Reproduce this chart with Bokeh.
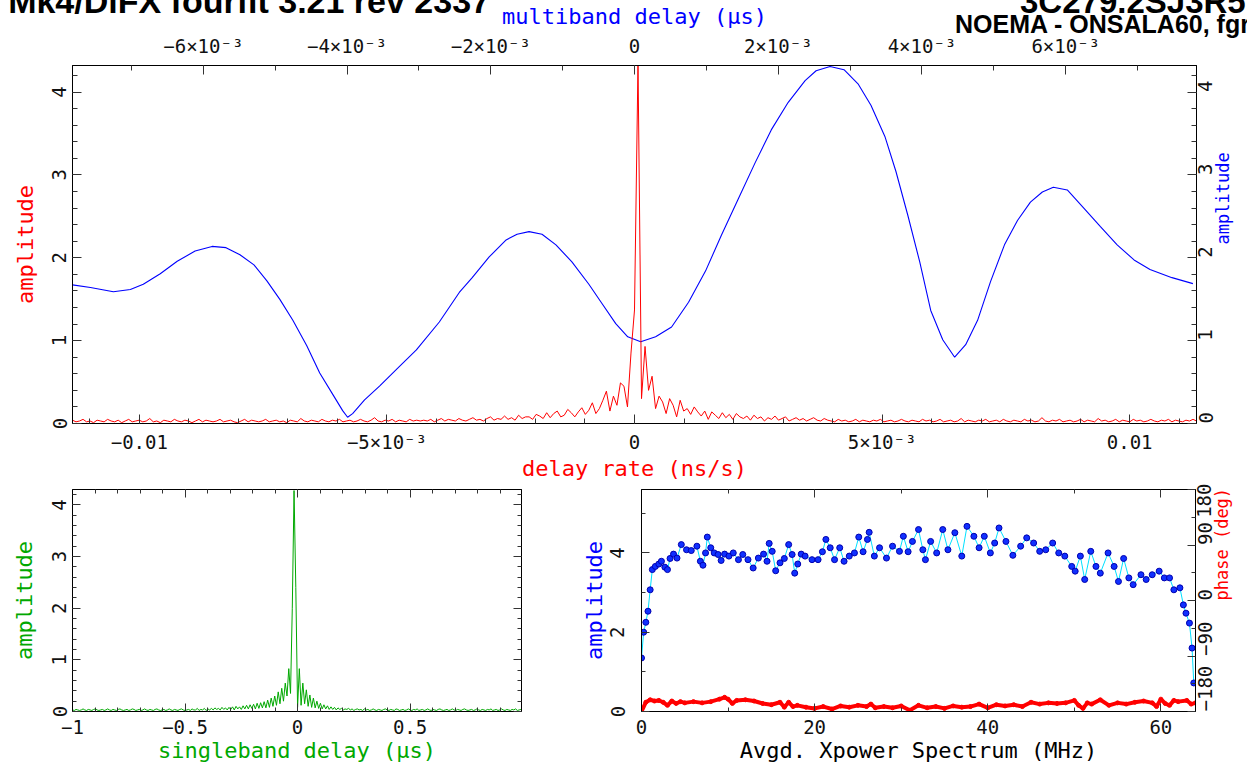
import math
import numpy as np
from bokeh.plotting import figure
from bokeh.models import Range1d, LinearAxis, FixedTicker, CustomJSTickFormatter, Div
from bokeh.layouts import column, row
from bokeh.embed import file_html
from bokeh.resources import INLINE

# ---------------- data ----------------
# multiband delay (us) vs amplitude  (blue, top panel, top axis)
mbd_delay = [-0.007820, -0.007570, -0.007251, -0.007015, -0.006835, -0.006599, -0.006363, -0.006114,
             -0.005878, -0.005684, -0.005490, -0.005295, -0.005115, -0.004935, -0.004754, -0.004560,
             -0.004380, -0.004186, -0.004061, -0.003992, -0.003922, -0.003756, -0.003548, -0.003298,
             -0.003035, -0.002716, -0.002438, -0.002258, -0.002022, -0.001786, -0.001634, -0.001467,
             -0.001287, -0.001093, -0.000871, -0.000635, -0.000455, -0.000261, -0.000094, 0.000086,
             0.000294, 0.000516, 0.000752, 0.000988, 0.001209, 0.001445, 0.001681, 0.001903,
             0.002139, 0.002374, 0.002527, 0.002721, 0.002915, 0.003110, 0.003290, 0.003484,
             0.003637, 0.003803, 0.003969, 0.004122, 0.004289, 0.004455, 0.004608, 0.004774,
             0.004954, 0.005148, 0.005329, 0.005509, 0.005675, 0.005828, 0.006022, 0.006258,
             0.006480, 0.006716, 0.006951, 0.007173, 0.007479, 0.007770]
mbd_amp = [1.673, 1.641, 1.590, 1.617, 1.680, 1.807, 1.958, 2.081,
           2.137, 2.122, 2.037, 1.914, 1.721, 1.498, 1.245, 0.939,
           0.610, 0.333, 0.155, 0.075, 0.119, 0.285, 0.452, 0.666,
           0.888, 1.225, 1.581, 1.760, 2.010, 2.215, 2.283, 2.315,
           2.283, 2.156, 1.950, 1.680, 1.451, 1.205, 1.046, 0.987,
           1.046, 1.165, 1.463, 1.839, 2.271, 2.711, 3.151, 3.543,
           3.876, 4.138, 4.257, 4.308, 4.269, 4.099, 3.841, 3.464,
           3.044, 2.513, 1.950, 1.364, 1.011, 0.800, 0.951, 1.245,
           1.712, 2.156, 2.449, 2.672, 2.794, 2.850, 2.818, 2.592,
           2.378, 2.156, 1.974, 1.858, 1.760, 1.688]

# delay rate (ns/s) amplitude (red, top panel) on the uniform delay-rate grid
RATE_MIN, RATE_MAX = -0.01135, 0.01135
rate_amp = [
    0.04, 0.02, 0.03, 0.05, 0.02, 0.03, 0.01, 0.04, 0.03, 0.02,
    0.05, 0.03, 0.02, 0.04, 0.01, 0.03, 0.05, 0.02, 0.03, 0.04,
    0.02, 0.03, 0.06, 0.02, 0.03, 0.01, 0.04, 0.03, 0.02, 0.05,
    0.03, 0.02, 0.04, 0.03, 0.01, 0.03, 0.05, 0.02, 0.04, 0.03,
    0.02, 0.03, 0.05, 0.02, 0.03, 0.04, 0.02, 0.01, 0.03, 0.05,
    0.02, 0.04, 0.03, 0.02, 0.03, 0.05, 0.02, 0.03, 0.04, 0.02,
    0.03, 0.01, 0.04, 0.03, 0.02, 0.06, 0.03, 0.02, 0.04, 0.03,
    0.02, 0.05, 0.03, 0.02, 0.04, 0.03, 0.05, 0.02, 0.03, 0.04,
    0.02, 0.03, 0.05, 0.03, 0.02, 0.04, 0.07, 0.03, 0.02, 0.04,
    0.03, 0.05, 0.02, 0.04, 0.03, 0.02, 0.05, 0.03, 0.04, 0.03,
    0.04, 0.03, 0.05, 0.02, 0.04, 0.06, 0.03, 0.05, 0.04, 0.03,
    0.06, 0.04, 0.03, 0.05, 0.07, 0.04, 0.05, 0.03, 0.06, 0.08,
    0.04, 0.06, 0.05, 0.09, 0.05, 0.07, 0.04, 0.10, 0.06, 0.08,
    0.08, 0.05, 0.11, 0.09, 0.06, 0.13, 0.07, 0.12, 0.15, 0.08,
    0.10, 0.17, 0.13, 0.08, 0.14, 0.19, 0.11, 0.16,
    0.25, 0.12, 0.18, 0.28, 0.39, 0.15, 0.33, 0.22, 0.49, 0.45,
    0.20, 0.85, 1.37, 4.35, 0.30, 0.93, 0.40, 0.57,
    0.18, 0.33, 0.26, 0.12, 0.30, 0.22, 0.08, 0.28, 0.15, 0.18, 0.11, 0.20, 0.14, 0.09, 0.15,
    0.05, 0.14, 0.10, 0.06, 0.13, 0.07, 0.11, 0.05, 0.12, 0.08,
    0.06, 0.09, 0.04, 0.10, 0.06, 0.08, 0.03, 0.07, 0.05, 0.09,
    0.04, 0.06, 0.08, 0.03, 0.05, 0.07, 0.04, 0.06, 0.03, 0.05,
    0.07, 0.04, 0.03, 0.06, 0.04,
    0.03, 0.02, 0.05, 0.03, 0.04, 0.02, 0.03, 0.05, 0.02, 0.04,
    0.03, 0.02, 0.04, 0.03, 0.05, 0.02, 0.03, 0.04, 0.02, 0.03,
    0.05, 0.03, 0.02, 0.04, 0.03, 0.02, 0.05, 0.03, 0.04, 0.02,
    0.03, 0.05, 0.02, 0.03, 0.04, 0.02, 0.03, 0.06, 0.02, 0.04,
    0.03, 0.02, 0.04, 0.03, 0.05, 0.02, 0.03, 0.04, 0.02, 0.05,
    0.03, 0.02, 0.04, 0.03, 0.02, 0.05, 0.03, 0.04, 0.02, 0.03,
    0.07, 0.03, 0.02, 0.04, 0.03, 0.05, 0.02, 0.03, 0.04, 0.02,
    0.03, 0.05, 0.02, 0.04, 0.03, 0.02, 0.06, 0.03, 0.04, 0.02,
    0.03, 0.05, 0.02, 0.04, 0.03, 0.02, 0.05, 0.03, 0.04, 0.02,
    0.03, 0.05, 0.03, 0.02, 0.04, 0.03, 0.05, 0.02, 0.04, 0.03,
    0.02, 0.04, 0.03, 0.05, 0.03]

# singleband delay (us) amplitude (green) on a 1/128 us grid starting at -1
SBD_START, SBD_STEP = -1.0, 1.0 / 128.0
sbd_amp = [
    0.03, 0.02, 0.04, 0.03, 0.02, 0.03, 0.05, 0.03, 0.02, 0.04,
    0.03, 0.02, 0.04, 0.05, 0.03, 0.02, 0.03, 0.04, 0.02, 0.03,
    0.05, 0.03, 0.02, 0.04, 0.03, 0.02, 0.04, 0.05, 0.03, 0.02,
    0.03, 0.04, 0.02, 0.03, 0.05, 0.04, 0.02, 0.03, 0.04, 0.02,
    0.03, 0.05, 0.03, 0.02, 0.04, 0.03, 0.02, 0.04, 0.05, 0.03,
    0.02, 0.03, 0.04, 0.02, 0.03, 0.05, 0.03, 0.02, 0.04, 0.03,
    0.02, 0.04, 0.05, 0.03, 0.02, 0.03, 0.04, 0.02, 0.05, 0.03,
    0.03, 0.06, 0.02, 0.04, 0.03, 0.06, 0.02, 0.05, 0.03, 0.06,
    0.03, 0.07, 0.04, 0.06, 0.03, 0.08, 0.04, 0.07, 0.03, 0.08,
    0.04, 0.09, 0.03, 0.10, 0.05, 0.09, 0.04, 0.11, 0.05, 0.12,
    0.05, 0.13, 0.06, 0.14, 0.05, 0.16, 0.06, 0.17, 0.07, 0.19,
    0.07, 0.22, 0.08, 0.26, 0.10, 0.30, 0.12, 0.38, 0.15, 0.45,
    0.20, 0.55, 0.30, 0.83, 0.35, 2.00, 4.28, 2.40,
    0.08, 0.83, 0.12, 0.55, 0.15, 0.42, 0.10, 0.32, 0.08, 0.26,
    0.07, 0.20, 0.06, 0.16, 0.05, 0.13, 0.05, 0.11, 0.04, 0.09,
    0.04, 0.08, 0.03, 0.07, 0.04, 0.06, 0.03, 0.05, 0.04, 0.06,
    0.03, 0.05, 0.02, 0.04, 0.05, 0.03, 0.04, 0.02, 0.05, 0.03,
    0.04, 0.02, 0.03, 0.05, 0.03, 0.02, 0.04, 0.03, 0.02, 0.04,
    0.05, 0.03, 0.02, 0.04, 0.03, 0.02, 0.05, 0.04, 0.02, 0.03,
    0.04, 0.02, 0.03, 0.05, 0.03, 0.02, 0.04, 0.03, 0.05, 0.02,
    0.03, 0.04, 0.02, 0.03, 0.05, 0.03, 0.02, 0.04, 0.03, 0.02,
    0.04, 0.05, 0.03, 0.02, 0.03, 0.04, 0.02, 0.03, 0.05, 0.03,
    0.02, 0.04, 0.03, 0.02, 0.04, 0.05, 0.03, 0.02, 0.03, 0.04,
    0.02, 0.03, 0.05, 0.03, 0.02, 0.04, 0.03, 0.02, 0.04, 0.03,
    0.05, 0.02, 0.03, 0.04, 0.02, 0.03, 0.05, 0.03, 0.02, 0.04,
    0.03, 0.02, 0.04, 0.03, 0.05, 0.02, 0.03, 0.04]

# averaged cross-power spectrum: amplitude (blue dots)
xp_freq = [0.0, 0.25, 0.5, 0.75, 1.0, 1.25, 1.6, 2.0, 2.3, 2.7, 3.0, 3.3, 3.7, 4.1, 4.6, 5.2,
           5.75, 6.4, 6.8, 7.1, 7.4, 7.6, 8.0, 8.4, 8.85, 9.2, 9.6, 10.1, 10.6, 11.2, 11.7,
           12.3, 12.9, 13.5, 14.1, 14.5, 14.75, 15.1, 15.5, 16.0, 16.5, 17.0, 17.4, 17.7,
           18.05, 18.45, 18.9, 19.7, 20.4, 20.9, 21.3, 21.8, 22.3, 22.9, 23.4, 24.0, 24.6,
           25.1, 25.6, 26.1, 26.3, 26.9, 27.5, 28.3, 29.0, 29.8, 30.25, 30.8, 31.3, 32.0,
           32.5, 32.8, 33.4, 34.1, 34.8, 35.4, 36.2, 37.0, 37.6, 38.4, 39.0, 39.6, 40.3,
           40.8, 41.3, 42.1, 42.9, 43.8, 44.5, 45.3, 46.0, 46.7, 47.5, 48.2, 48.9, 49.7,
           50.1, 50.7, 51.2, 51.9, 52.5, 53.0, 53.9, 54.6, 55.1, 55.7, 56.3, 56.8, 57.7,
           58.3, 59.0, 59.8, 60.4, 61.0, 61.5, 62.2, 62.6, 62.9, 63.3, 63.6, 63.8]
xp_amp = [1.35, 2.0, 2.25, 2.53, 3.07, 3.58, 3.66, 3.72, 3.79, 3.64, 3.58, 3.86, 3.97, 3.87,
          4.21, 4.08, 4.06, 4.17, 3.79, 3.69, 4.0, 4.40, 4.13, 4.0, 3.96, 3.81, 3.97, 3.92,
          4.0, 3.83, 3.96, 3.83, 3.62, 3.87, 3.97, 3.79, 4.24, 4.04, 3.55, 3.75, 3.86, 4.21,
          3.96, 3.49, 3.72, 3.97, 3.92, 3.83, 3.83, 4.03, 4.34, 4.13, 3.83, 4.13, 3.79, 3.92,
          4.0, 4.40, 4.03, 4.34, 4.52, 3.92, 4.13, 3.87, 4.17, 4.04, 4.42, 4.03, 4.29, 4.59,
          4.08, 3.83, 4.29, 4.0, 4.59, 4.08, 4.51, 3.92, 4.67, 4.42, 4.13, 4.42, 4.0, 4.25,
          4.63, 4.29, 3.94, 4.17, 4.38, 4.25, 4.04, 4.08, 4.25, 4.0, 3.92, 3.66, 3.54, 3.92,
          3.33, 4.04, 3.66, 3.49, 4.0, 3.66, 3.28, 3.86, 3.37, 3.20, 3.45, 3.33, 3.45, 3.54,
          3.37, 3.37, 3.07, 3.12, 2.69, 2.48, 2.23, 1.6, 0.72]

# averaged cross-power spectrum: phase (red, degrees)
ph_freq = [0, 0.5, 1, 1.5, 2, 2.5, 3, 3.5, 4, 4.5, 5, 6, 7, 8, 9, 9.6, 10, 10.5, 11, 12,
           13, 14, 15, 16, 16.5, 17, 17.5, 18, 19, 20, 21, 22, 23, 24, 25, 26, 26.5, 27, 28, 29,
           30, 31, 32, 33, 34, 35, 36, 37, 38, 39, 40, 41, 42, 43, 44, 45, 46, 47, 48, 49,
           50, 50.5, 51, 51.5, 52, 53, 54, 55, 56, 57, 58, 59, 59.5, 60, 60.5, 61, 61.5, 62, 63,
           63.5, 64]
ph_deg = [-180, -165, -161, -163, -162, -165, -170, -163, -167, -164,
          -166, -164, -166, -164, -160, -157, -160, -167, -162, -161,
          -163, -167, -169, -165, -173, -165, -172, -170, -173, -175,
          -172, -176, -171, -173, -170, -172, -168, -174, -172, -174,
          -171, -178, -170, -174, -172, -175, -171, -173, -172, -168,
          -174, -169, -171, -169, -172, -165, -168, -166, -167, -166,
          -162, -170, -175, -166, -168, -161, -170, -166, -168, -165,
          -163, -166, -172, -160, -167, -170, -162, -164, -162, -168, -166]

# tick labels
rate_ticks = [-0.01, -0.005, 0.0, 0.005, 0.01]
rate_labels = ["\u22120.01", "\u22125\u00d710\u207b\u00b3", "0", "5\u00d710\u207b\u00b3", "0.01"]
mbd_ticks = [-0.006, -0.004, -0.002, 0.0, 0.002, 0.004, 0.006]
mbd_labels = ["\u22126\u00d710\u207b\u00b3", "\u22124\u00d710\u207b\u00b3", "\u22122\u00d710\u207b\u00b3", "0",
              "2\u00d710\u207b\u00b3", "4\u00d710\u207b\u00b3", "6\u00d710\u207b\u00b3"]
amp_ticks = [0, 1, 2, 3, 4]
amp_labels = ["0", "1", "2", "3", "4"]
sbd_ticks = [-1.0, -0.5, 0.0, 0.5]
sbd_labels = ["\u22121", "\u22120.5", "0", "0.5"]
xp_ticks = [0, 20, 40, 60]
xp_labels = ["0", "20", "40", "60"]
xpamp_ticks = [0, 2, 4]
xpamp_labels = ["0", "2", "4"]
ph_ticks = [-180, -90, 0, 90, 180]
ph_labels = ["\u2212180", "\u221290", "0", "90", "180"]

title_left = "Mk4/DiFX fourfit 3.21 rev 2337"
title_right1 = "3C279.2SJ3R5, No0017, RR"
title_right2 = "NOEMA - ONSALA60, fgroup X, pol RR"

# ---------------- styling helpers ----------------
FONT = "DejaVu Sans Mono"
TFONT = "Liberation Sans"
RED, BLUE, GREEN, CYAN = "#ff0000", "#0000ff", "#00a800", "#00e0ff"
TICKC = "#333333"


def fmt(ticks, labels):
    return CustomJSTickFormatter(args=dict(t=list(ticks), l=list(labels)), code="""
for (let i = 0; i < t.length; i++) { if (Math.abs(t[i] - tick) < 1e-9) { return l[i]; } }
return '';""")


def make_axis(ticks, minor, labels=None, label=None, color="black", side="below",
              major_len=9, minor_len=5, standoff=6, label_standoff=5, label_size="22px", **kw):
    ax = LinearAxis(ticker=FixedTicker(ticks=list(ticks), minor_ticks=list(minor)), **kw)
    ax.axis_line_color = "black"
    ax.major_tick_in = major_len
    ax.major_tick_out = 0
    ax.minor_tick_in = minor_len
    ax.minor_tick_out = 0
    ax.major_tick_line_color = TICKC
    ax.minor_tick_line_color = TICKC
    if labels is None:
        ax.formatter = CustomJSTickFormatter(code="return '';")
        ax.major_label_text_font_size = "0px"
        ax.major_label_standoff = 0
    else:
        ax.formatter = fmt(ticks, labels)
        ax.major_label_text_font = FONT
        ax.major_label_text_font_size = "19px"
        ax.major_label_text_color = "#111111"
        ax.major_label_standoff = standoff
        if side == "left":
            ax.major_label_orientation = "vertical"
        elif side == "right":
            ax.major_label_orientation = math.pi / 2
    if label:
        ax.axis_label = label
        ax.axis_label_text_font = FONT
        ax.axis_label_text_font_style = "normal"
        ax.axis_label_text_font_size = label_size
        ax.axis_label_text_color = color
        ax.axis_label_standoff = label_standoff
        if side == "right" and "axis_label_orientation" in ax.properties():
            ax.axis_label_orientation = math.pi / 2
    return ax


def base_fig(w, h, xr, yr, bl, br, bt, bb):
    p = figure(width=w, height=h, x_range=xr, y_range=yr, x_axis_type=None, y_axis_type=None,
               output_backend="svg", toolbar_location=None,
               min_border_left=bl, min_border_right=br, min_border_top=bt, min_border_bottom=bb)
    p.outline_line_color = "black"
    p.outline_line_width = 1
    p.background_fill_color = "white"
    p.border_fill_color = "white"
    return p


amp_minor = [round(0.2 * i, 2) for i in range(0, 22)]

# ---------------- header strip (titles, partly above the page edge) ----------------
HDR_H = 40
hdr_html = (
    '<div style="position:relative;width:1247px;height:%dpx;overflow:hidden;'
    "font-family:'Liberation Sans',Arial,sans-serif;font-weight:bold;color:#000;\">"
    '<span style="position:absolute;right:757px;top:-16px;font-size:34px;line-height:34px;white-space:nowrap">%s</span>'
    '<span style="position:absolute;left:1020px;top:-15px;font-size:33px;line-height:33px;white-space:nowrap">%s</span>'
    '<span style="position:absolute;left:955px;top:12px;font-size:25px;line-height:25px;white-space:nowrap">%s</span>'
    '</div>' % (HDR_H, title_left, title_right1, title_right2)
)
hdr = Div(text=hdr_html, width=1247, height=HDR_H, margin=(0, 0, 0, 0))

# ---------------- top panel ----------------
p1 = base_fig(1247, 483, Range1d(RATE_MIN, RATE_MAX), Range1d(0, 4.32), 72, 51, 65, 55)
p1.border_fill_alpha = 0
p1.margin = (-HDR_H, 0, 0, 0)
p1.extra_x_ranges = {"mbd": Range1d(-0.00782, 0.00782)}

p1.add_layout(make_axis(rate_ticks, [0.001 * i for i in range(-11, 12)], rate_labels,
                        "delay rate (ns/s)", RED, side="below", standoff=7, label_standoff=0), "below")
p1.add_layout(make_axis(mbd_ticks, [0.001 * i for i in range(-7, 8)], mbd_labels,
                        "multiband delay (\u03bcs)", BLUE, side="above", standoff=9, label_standoff=3,
                        x_range_name="mbd"), "above")
p1.add_layout(make_axis(amp_ticks, amp_minor, amp_labels, "amplitude", RED, side="left",
                        standoff=6, label_standoff=12), "left")
p1.add_layout(make_axis(amp_ticks, amp_minor, amp_labels, "amplitude", BLUE, side="right",
                        standoff=9, label_standoff=0, label_size="17px"), "right")

p1.line(mbd_delay, mbd_amp, x_range_name="mbd", line_color=BLUE, line_width=1.1)
rate = np.linspace(RATE_MIN, RATE_MAX, len(rate_amp))
p1.line(rate, rate_amp, line_color=RED, line_width=1)

# ---------------- bottom-left panel ----------------
p2 = base_fig(560, 286, Range1d(-1.0, 0.995), Range1d(0, 4.3), 72, 39, 6, 58)
sbd_minor = [round(0.1 * i, 2) for i in range(-10, 10)]
p2.add_layout(make_axis(sbd_ticks, sbd_minor, sbd_labels, "singleband delay (\u03bcs)", GREEN,
                        side="below", major_len=8, minor_len=4, standoff=8, label_standoff=1), "below")
p2.add_layout(make_axis(sbd_ticks, sbd_minor, None, side="above", major_len=8, minor_len=4), "above")
p2.add_layout(make_axis(amp_ticks, amp_minor, amp_labels, "amplitude", GREEN, side="left",
                        major_len=8, minor_len=4, standoff=6, label_standoff=13), "left")
p2.add_layout(make_axis(amp_ticks, amp_minor, None, side="right", major_len=8, minor_len=4), "right")
sbd = SBD_START + SBD_STEP * np.arange(len(sbd_amp))
p2.line(sbd, sbd_amp, line_color=GREEN, line_width=1)

# ---------------- bottom-right panel ----------------
p3 = base_fig(687, 286, Range1d(0, 64.0), Range1d(0, 5.6), 81, 52, 6, 58)
p3.extra_y_ranges = {"phase": Range1d(-180, 180)}
p3.add_layout(make_axis(xp_ticks, [10, 30, 50], xp_labels, "Avgd. Xpower Spectrum (MHz)", "black",
                        side="below", major_len=8, minor_len=4, standoff=8, label_standoff=1), "below")
p3.add_layout(make_axis(xp_ticks, [10, 30, 50], None, side="above", major_len=8, minor_len=4), "above")
p3.add_layout(make_axis(xpamp_ticks, [1, 3, 5], xpamp_labels, "amplitude", BLUE, side="left",
                        major_len=8, minor_len=4, standoff=17, label_standoff=1), "left")
p3.add_layout(make_axis(ph_ticks, [-135, -45, 45, 135], ph_labels, "phase (deg)", RED, side="right",
                        major_len=8, minor_len=4, standoff=9, label_standoff=0, label_size="17px",
                        y_range_name="phase"), "right")

p3.line(ph_freq, ph_deg, y_range_name="phase", line_color=RED, line_width=4)
p3.scatter(ph_freq, ph_deg, y_range_name="phase", size=4, fill_color=RED, line_color=RED)
p3.line(xp_freq, xp_amp, line_color=CYAN, line_width=1)
p3.scatter(xp_freq, xp_amp, size=6, fill_color="#1030ff", line_color="#0000b0", line_width=1)

root = column(hdr, p1, row(p2, p3, spacing=0), spacing=0)

with open("out.html", "w", encoding="utf-8") as f:
    f.write(file_html(root, INLINE))
